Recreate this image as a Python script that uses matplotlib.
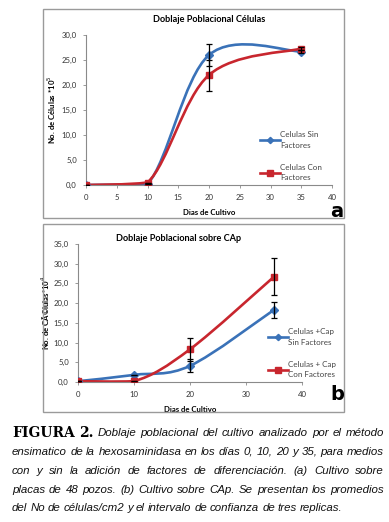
import numpy as np
import matplotlib
matplotlib.use("Agg")
import matplotlib.pyplot as plt
from matplotlib.path import Path
from matplotlib.patches import PathPatch, Rectangle
from matplotlib.lines import Line2D
from matplotlib.ticker import FuncFormatter

# panel (a): cultivo sobre placas
dias_a = [0, 10, 20, 35]
sin_factores_a = [0.0, 0.2, 26.0, 26.7]
sin_factores_a_err = [0.0, 0.0, 2.2, 0.3]
con_factores_a = [0.0, 0.5, 22.0, 27.3]
con_factores_a_err = [0.0, 0.0, 3.1, 0.3]

# panel (b): cultivo sobre CAp
dias_b = [0, 10, 20, 35]
sin_factores_b = [0.2, 1.8, 4.1, 18.3]
sin_factores_b_err = [0.0, 0.1, 1.65, 2.1]
con_factores_b = [0.2, 0.2, 8.3, 26.7]
con_factores_b_err = [0.0, 0.0, 2.9, 4.7]

BLUE = "#3a72b8"
RED = "#c8262e"
FONT = "Lato"

caption_lines = [
    [("FIGURA", "b"), ("2.", "b"), ("Doblaje", "i"), ("poblacional", "i"), ("del", "i"), ("cultivo", "i"),
     ("analizado", "i"), ("por", "i"), ("el", "i"), ("método", "i")],
    "ensimatico de la hexosaminidasa en los días 0, 10, 20 y 35, para medios",
    "con y sin la adición de factores de diferenciación. (a) Cultivo sobre",
    "placas de 48 pozos. (b) Cultivo sobre CAp. Se presentan los promedios",
    "del No de células/cm2 y el intervalo de confianza de tres replicas.",
]


def smooth_path(x, y):
    # Excel-like smoothed line: Catmull-Rom as cubic Bezier, no dip below zero
    pts = np.column_stack([x, y]).astype(float)
    n = len(pts)
    verts = [pts[0]]
    codes = [Path.MOVETO]
    for i in range(n - 1):
        p0 = pts[max(i - 1, 0)]
        p1 = pts[i]
        p2 = pts[i + 1]
        p3 = pts[min(i + 2, n - 1)]
        c1 = p1 + (p2 - p0) / 6.0
        c2 = p2 - (p3 - p1) / 6.0
        c1[1] = max(c1[1], 0.0)
        c2[1] = max(c2[1], 0.0)
        verts += [c1, c2, p2]
        codes += [Path.CURVE4] * 3
    return Path(verts, codes)


def draw_panel(ax, x, series, xlim, ylim, xstep, ystep, title, ylabel, title_pad, ylabel_pad):
    for y, err, color, marker, ms in series:
        ax.add_patch(PathPatch(smooth_path(x, y), fill=False, edgecolor=color, lw=1.9,
                               zorder=2, capstyle="round"))
        ax.errorbar(x, y, yerr=err, fmt="none", ecolor="black", elinewidth=0.9,
                    capsize=2.0, capthick=0.9, zorder=4)
        ax.plot(x, y, ls="none", marker=marker, ms=ms, color=color, zorder=3)
    ax.set_xlim(*xlim)
    ax.set_ylim(*ylim)
    ax.set_xticks(np.arange(xlim[0], xlim[1] + 0.1, xstep))
    ax.set_yticks(np.arange(ylim[0], ylim[1] + 0.1, ystep))
    ax.yaxis.set_major_formatter(FuncFormatter(lambda v, p: f"{v:.1f}".replace(".", ",")))
    for s in ["top", "right"]:
        ax.spines[s].set_visible(False)
    for s in ["left", "bottom"]:
        ax.spines[s].set_color("#8a8a8a")
        ax.spines[s].set_linewidth(0.8)
    ax.tick_params(length=2.5, width=0.6, color="#8a8a8a", labelsize=5.6, pad=4,
                   labelcolor="#333333")
    for lab in ax.get_xticklabels() + ax.get_yticklabels():
        lab.set_fontfamily(FONT)
    ax.set_title(title, fontsize=6.6, fontweight="bold", family=FONT, pad=title_pad)
    ax.set_xlabel("Dias de Cultivo", fontsize=5.6, fontweight="bold", family=FONT, labelpad=6)
    ax.set_ylabel(ylabel, fontsize=5.6, fontweight="bold", family=FONT, labelpad=ylabel_pad)
    ax.set_facecolor("none")


fig = plt.figure(figsize=(3.89, 5.22), dpi=100)
W, H = 389.0, 522.0


def fx(px):
    return px / W


def fy(py):
    return 1 - py / H


# panel frames
for top, bottom in [(9, 218), (224, 412)]:
    fig.patches.append(Rectangle((fx(43), fy(bottom)), fx(344) - fx(43), fy(top) - fy(bottom),
                                 transform=fig.transFigure, fill=False, edgecolor="#9a9a9a",
                                 lw=1.0, zorder=0))

ax1 = fig.add_axes([fx(86), fy(185), fx(332) - fx(86), fy(35) - fy(185)])
draw_panel(ax1, dias_a,
           [(sin_factores_a, sin_factores_a_err, BLUE, "D", 3.6),
            (con_factores_a, con_factores_a_err, RED, "s", 4.2)],
           (0, 40), (0, 30), 5, 5, "Doblaje Poblacional Células", "No. de Células *10$^{5}$", 9, 3)

ax2 = fig.add_axes([fx(78), fy(382), fx(302) - fx(78), fy(244) - fy(382)])
draw_panel(ax2, dias_b,
           [(sin_factores_b, sin_factores_b_err, BLUE, "D", 3.6),
            (con_factores_b, con_factores_b_err, RED, "s", 4.2)],
           (0, 40), (0, 35), 10, 5, "Doblaje Poblacional sobre CAp", "No. de CÃ©lulas*10$^{4}$", 2, 1)
ax2.title.set_position((0.45, 1.0))

leg_kw = dict(frameon=False, handlelength=2.4, handletextpad=0.1,
              labelspacing=1.9, borderaxespad=0, prop={"family": FONT, "size": 5.8})
h1 = [Line2D([], [], color=BLUE, lw=1.9, marker="D", ms=3.2),
      Line2D([], [], color=RED, lw=1.9, marker="s", ms=3.8)]
leg1 = fig.legend(h1, ["Celulas Sin\nFactores", "Celulas Con\nFactores"], loc="upper left",
                  bbox_to_anchor=(fx(257), fy(128)), **leg_kw)
leg2 = fig.legend(h1, ["Celulas +Cap\nSin Factores", "Celulas + Cap\nCon Factores"], loc="upper left",
                  bbox_to_anchor=(fx(265), fy(325)), **leg_kw)
for leg in (leg1, leg2):
    for t in leg.get_texts():
        t.set_color("#444444")
        t.set_linespacing(1.55)

fig.text(fx(337), fy(211), "a", fontsize=14, fontweight="bold", family="DejaVu Sans",
         ha="center", va="center")
fig.text(fx(337), fy(395), "b", fontsize=14, fontweight="bold", family="DejaVu Sans",
         ha="center", va="center")

# caption, justified; font size chosen so the densest line just fits
left, right = 12, 384
line_y = [433, 452, 471, 490, 508]
renderer = fig.canvas.get_renderer()
probe_size = 10.0
widest = 0
for line in caption_lines[1:]:
    t = fig.text(0, 0, line, fontsize=probe_size, style="italic", family="Liberation Sans")
    widest = max(widest, t.get_window_extent(renderer).width)
    t.remove()
cap_size = probe_size * (right - left) / widest

for li, line in enumerate(caption_lines):
    if isinstance(line, str):
        words = [(w, "i") for w in line.split(" ")]
    else:
        words = line
    texts = []
    for w, style in words:
        if style == "b":
            t = fig.text(0, fy(line_y[li]), w, fontsize=10.0, fontweight="bold",
                         family="DejaVu Serif", va="center", ha="left")
        else:
            t = fig.text(0, fy(line_y[li]), w, fontsize=cap_size, style="italic",
                         family="Liberation Sans", va="center", ha="left", color="#111111")
        texts.append(t)
    widths = [t.get_window_extent(renderer).width for t in texts]
    total = sum(widths)
    if li < len(caption_lines) - 1:
        gap = (right - left - total) / (len(texts) - 1)
    else:
        gap = 3.0
    x = left
    for t, w in zip(texts, widths):
        t.set_x(fx(x))
        x += w + gap

fig.savefig("out.png", dpi=100)
